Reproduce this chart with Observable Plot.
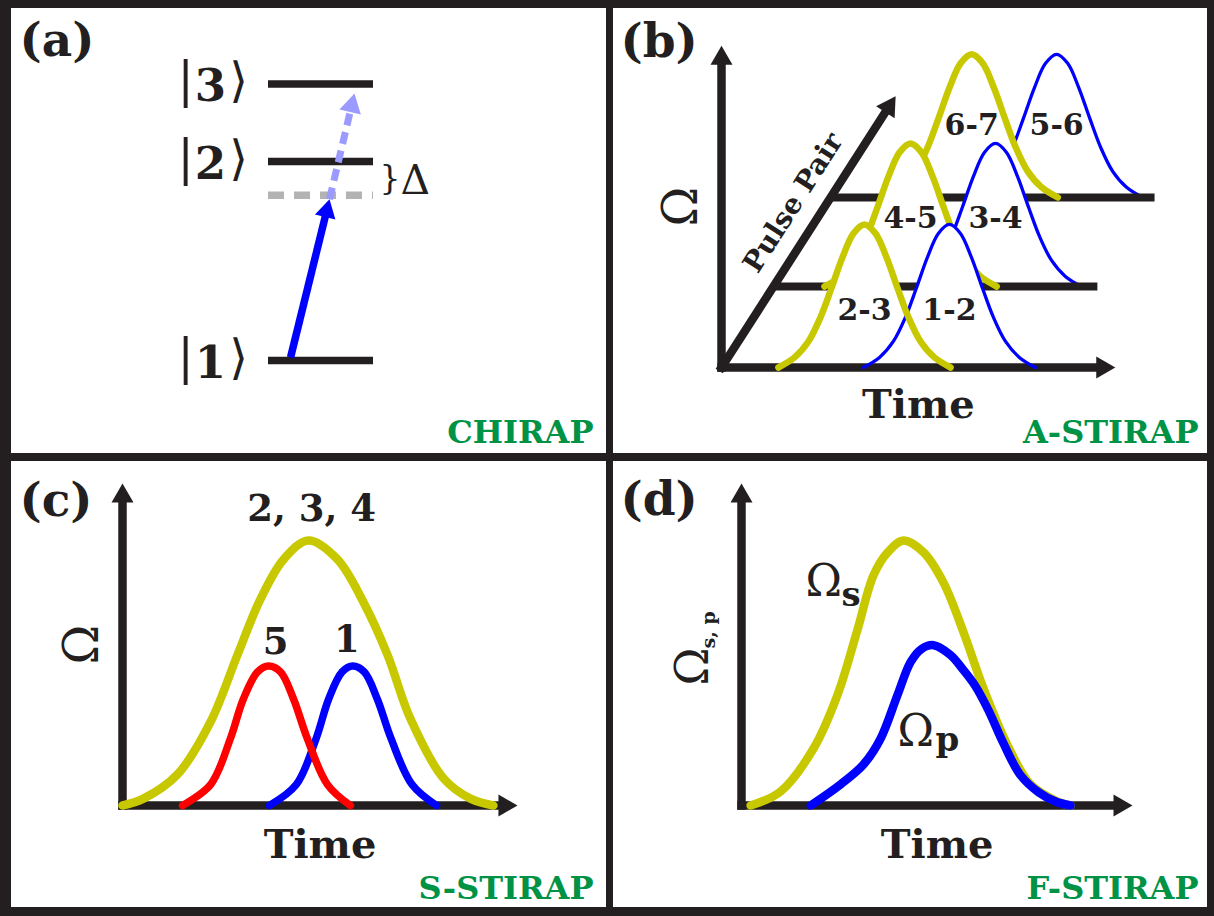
<!DOCTYPE html>
<html>
<head>
<meta charset="utf-8">
<script src="https://cdn.jsdelivr.net/npm/d3@7"></script>
<script src="https://cdn.jsdelivr.net/npm/@observablehq/plot@0.6"></script>
<style>
  html, body { margin: 0; padding: 0; background: #fff; }
  #figure { position: relative; width: 1214px; height: 916px; background: #231f20; overflow: hidden; }
  .panel { position: absolute; background: #fff; }
  .panel svg { display: block; overflow: visible; }
</style>
</head>
<body>
<div id="figure">
  <div class="panel" id="panel-a" style="left:11px;top:8px;width:595px;height:445px"></div>
  <div class="panel" id="panel-b" style="left:613px;top:8px;width:594px;height:445px"></div>
  <div class="panel" id="panel-c" style="left:11px;top:461px;width:595px;height:446px"></div>
  <div class="panel" id="panel-d" style="left:613px;top:461px;width:594px;height:446px"></div>
</div>
<script>
// ---------- (a) CHIRAP: three-level ladder ----------
const levelNames = ["1", "2", "3"];
const levelEnergy = [0, 1, 1.39];
const virtualEnergy = 0.83;               // dashed level, detuned by Δ below |2⟩
const laserNames = ["pump", "stokes"];
const laserX1 = [0.21, 0.581];
const laserE1 = [0.015, 0.81];
const laserX2 = [0.581, 0.819];
const laserE2 = [0.81, 1.342];

// ---------- (b) A-STIRAP: pulse pairs along a depth axis ----------
const pairDepth = [0, 1, 2.1];
const stokesPairs = ["2-3", "4-5", "6-7"];
const pumpPairs = ["1-2", "3-4", "5-6"];
const stokesCenter = [3.62, 3.47, 3.57];
const pumpCenter = [5.77, 5.62, 5.72];
const pairBaseEnd = [9.97, 8.2, 8.2];
const pairAxisEnd = 3.35;
const profileDt = [-2.18, -1.77, -1.42, -1.11, -0.84, -0.56, -0.28, 0, 0.28, 0.56, 0.84, 1.11, 1.42, 1.77, 2.18];
const profileOmega = [0, 0.38, 0.98, 1.9, 2.97, 4.13, 5.04, 5.38, 5.04, 4.13, 2.97, 1.9, 0.98, 0.38, 0];
const omegaAxisEndB = 12.1;

// ---------- (c) S-STIRAP ----------
const cYellowT = [0, 0.53, 1.39, 2.23, 2.91, 3.49, 4.08, 4.71, 5.44, 6.10, 6.71, 7.29, 8.13, 8.81, 9.39];
const cYellowW = [0, 0.26, 1.17, 3.16, 5.68, 7.78, 9.29, 10, 9.29, 7.67, 5.68, 3.27, 1.02, 0.26, 0];
const cRedT = [1.52, 2.23, 2.73, 3.06, 3.42, 3.70, 4.00, 4.33, 4.68, 5.19, 5.77];
const cRedW = [0, 0.79, 2.52, 4.02, 5.04, 5.26, 5.04, 4.02, 2.52, 0.79, 0];
const cBlueT = [3.72, 4.40, 4.90, 5.22, 5.56, 5.83, 6.12, 6.45, 6.80, 7.33, 7.95];
const cBlueW = [0, 0.79, 2.52, 4.02, 5.04, 5.26, 5.04, 4.02, 2.52, 0.79, 0];
const cLabels = ["2, 3, 4", "5", "1"];

// ---------- (d) F-STIRAP ----------
const dStokesT = [0.23, 0.99, 1.82, 2.43, 2.94, 3.34, 3.70, 4.10, 4.61, 5.11, 5.62, 6.13, 6.73, 7.32, 8.00, 8.33];
const dStokesW = [0, 0.53, 2.14, 4.17, 6.65, 8.68, 9.55, 10, 9.55, 8.42, 6.54, 4.40, 2.29, 0.79, 0.15, 0];
const dPumpT = [1.75, 2.51, 3.09, 3.52, 3.95, 4.28, 4.55, 4.86, 5.29, 5.62, 5.92, 6.25, 6.63, 7.06, 7.52, 7.95, 8.33];
const dPumpW = [0, 0.8, 1.55, 2.52, 4.17, 5.41, 5.9, 6.05, 5.68, 5.11, 4.51, 3.6, 2.35, 1.15, 0.5, 0.15, 0];

const timeAxisEnd = [10, 9.9];      // (c), (d)
const omegaAxisEnd = 12.15;

// ---------- styling ----------
const INK = "#231f20", YELLOW = "#c8c800", BLUE = "#0000ff", RED = "#ff0000";
const LIGHT = "#9b9bff", GRAY = "#b3b3b3", GREEN = "#009245";
const SERIF = "DejaVu Serif, Liberation Serif, serif";
const BRACKET = "DejaVu Sans, DejaVu Serif, Noto Sans, sans-serif";

const scA = {x: {domain: [0, 1], range: [257, 362]}, y: {domain: [0, 1], range: [352, 153]}};
const scB = {x: {domain: [0, 10], range: [108, 503]}, y: {domain: [0, 10], range: [359, 93]}};
const scC = {x: {domain: [0, 10], range: [111, 506]}, y: {domain: [0, 10], range: [344, 79]}};
const scD = {x: {domain: [0, 10], range: [128, 523]}, y: {domain: [0, 10], range: [344, 79]}};

// oblique projection of the pulse-pair axis (per depth unit)
const DEPTH_T = 1.316, DEPTH_W = 3.045;

const pixel = sc => ({x: d3.scaleLinear(sc.x.domain, sc.x.range), y: d3.scaleLinear(sc.y.domain, sc.y.range)});

// filled triangular arrow head whose tip sits on `tip`
function head(sc, tip, from, fill, side) {
  const s = pixel(sc);
  const tx = s.x(tip[0]), ty = s.y(tip[1]), fx = s.x(from[0]), fy = s.y(from[1]);
  const len = Math.hypot(tx - fx, ty - fy);
  const ux = (tx - fx) / len, uy = (ty - fy) / len;
  const back = side / Math.sqrt(3);
  return Plot.dot([tip], {
    x: d => d[0], y: d => d[1], symbol: "triangle",
    r: Math.sqrt(Math.sqrt(3) / 4 * side * side / Math.PI),
    rotate: Math.atan2(ux, -uy) * 180 / Math.PI,
    dx: -ux * back, dy: -uy * back, fill, stroke: "none"
  });
}

function arrow(sc, tail, tip, {stroke = INK, strokeWidth = 8.5, side = 22, dash = null, cap = "square"} = {}) {
  return [
    Plot.arrow([{tail, tip}], {
      x1: d => d.tail[0], y1: d => d.tail[1], x2: d => d.tip[0], y2: d => d.tip[1],
      headLength: 0, insetEnd: side * 0.7, stroke, strokeWidth,
      strokeLinecap: cap, strokeDasharray: dash
    }),
    head(sc, tip, tail, stroke, side)
  ];
}

function panel(id, width, height, sc, marks) {
  const chart = Plot.plot({
    width, height, margin: 0,
    x: {...sc.x, axis: null},
    y: {...sc.y, axis: null},
    style: {overflow: "visible", background: "transparent"},
    marks
  });
  document.getElementById(id).append(chart);
}

const txt = (o) => ({fontFamily: SERIF, fill: INK, stroke: "none", ...o});
const tag = (text, dx, dy) => Plot.text([text], txt({frameAnchor: "top-left", textAnchor: "start", lineAnchor: "bottom", dx, dy, fontSize: 47, fontWeight: "bold"}));
const technique = (text, dx, dy) => Plot.text([text], txt({frameAnchor: "bottom-right", textAnchor: "end", lineAnchor: "bottom", dx, dy, fontSize: 32, fontWeight: "bold", fill: GREEN}));
const points = (T, W) => T.map((t, i) => ({t, w: W[i]}));
const pulseLine = (pts, stroke, strokeWidth) => Plot.line(pts, {x: "t", y: "w", stroke, strokeWidth, curve: "catmull-rom"});

// ===== (a) =====
const levels = levelNames.map((name, i) => ({name, E: levelEnergy[i]}));
const lasers = laserNames.map((name, i) => ({name, tail: [laserX1[i], laserE1[i]], tip: [laserX2[i], laserE2[i]]}));
panel("panel-a", 595, 445, scA, [
  Plot.ruleY(levels, {y: "E", x1: 0, x2: 1, stroke: INK, strokeWidth: 7.5}),
  Plot.ruleY([virtualEnergy], {y: d => d, x1: 0, x2: 1, stroke: GRAY, strokeWidth: 7.5, strokeDasharray: "16,10"}),
  arrow(scA, lasers[0].tail, lasers[0].tip, {stroke: BLUE, strokeWidth: 7.5, side: 21, cap: "butt"}),
  arrow(scA, lasers[1].tail, lasers[1].tip, {stroke: LIGHT, strokeWidth: 7, side: 22, dash: "12,7", cap: "butt"}),
  Plot.text(levels, txt({x: 0, y: "E", text: () => "|", dx: -83, dy: -2, fontSize: 48})),
  Plot.text(levels, txt({x: 0, y: "E", text: "name", dx: -58, dy: 3, fontSize: 45, fontWeight: "bold"})),
  Plot.text(levels, txt({x: 0, y: "E", text: () => "\u27E9", dx: -30, dy: -2, fontSize: 48, fontFamily: BRACKET})),
  Plot.text([(virtualEnergy + levelEnergy[1]) / 2], txt({x: 1, y: d => d, text: () => "}", textAnchor: "start", dx: 6, fontSize: 33})),
  Plot.text([(virtualEnergy + levelEnergy[1]) / 2], txt({x: 1, y: d => d, text: () => "Δ", textAnchor: "start", dx: 27, dy: 2, fontSize: 41})),
  tag("(a)", 8, 47),
  technique("CHIRAP", -13, -11)
]);

// ===== (b) =====
const pulse = (center, depth) => profileDt.map((dt, i) => ({
  t: center + dt + depth * DEPTH_T, base: depth * DEPTH_W, w: depth * DEPTH_W + profileOmega[i]
}));
const labelLift = [2.15, 2.55, 2.7];
const pairLabels = pairDepth.flatMap((depth, r) => [
  {text: stokesPairs[r], t: stokesCenter[r] + depth * DEPTH_T, w: depth * DEPTH_W + labelLift[r]},
  {text: pumpPairs[r], t: pumpCenter[r] + depth * DEPTH_T, w: depth * DEPTH_W + labelLift[r]}
]);
const rowMarks = [2, 1, 0].flatMap(r => {
  const depth = pairDepth[r];
  const s = pulse(stokesCenter[r], depth), p = pulse(pumpCenter[r], depth);
  const cover = pts => Plot.areaY(pts, {x: "t", y1: "base", y2: "w", fill: "white", curve: "catmull-rom"});
  const base = r === 0
    ? arrow(scB, [0, 0], [pairBaseEnd[0], 0])
    : Plot.link([depth], {x1: d => d * DEPTH_T, x2: d => d * DEPTH_T + pairBaseEnd[r], y1: d => d * DEPTH_W, y2: d => d * DEPTH_W, stroke: INK, strokeWidth: 8});
  return r === 0
    ? [cover(p), cover(s), base, pulseLine(p, BLUE, 3.3), pulseLine(s, YELLOW, 6.5)]
    : [cover(p), pulseLine(p, BLUE, 3.3), cover(s), base, pulseLine(s, YELLOW, 6.5)];
});
const pairTip = [pairAxisEnd * DEPTH_T, pairAxisEnd * DEPTH_W];
const pairLabelAt = 0.55 * pairAxisEnd;
panel("panel-b", 594, 445, scB, [
  arrow(scB, [0, 0], [0, omegaAxisEndB]),
  arrow(scB, [0, 0], pairTip),
  ...rowMarks,
  Plot.text(pairLabels, txt({x: "t", y: "w", text: "text", fontSize: 30, fontWeight: "bold"})),
  Plot.text(["Ω"], txt({x: 0, y: omegaAxisEndB / 2, dx: -40, rotate: -90, fontSize: 48})),
  Plot.text(["Pulse Pair"], txt({x: pairLabelAt * DEPTH_T, y: pairLabelAt * DEPTH_W, dx: -24, dy: -15.5, rotate: -57.3, fontSize: 28, fontWeight: "bold"})),
  Plot.text(["Time"], txt({x: pairBaseEnd[0] / 2, y: 0, dy: 50, lineAnchor: "bottom", fontSize: 40, fontWeight: "bold"})),
  tag("(b)", 7, 48),
  technique("A-STIRAP", -9, -11)
]);

// ===== (c) =====
const cYellow = points(cYellowT, cYellowW), cRed = points(cRedT, cRedW), cBlue = points(cBlueT, cBlueW);
const peak = pts => d3.greatest(pts, d => d.w);
panel("panel-c", 595, 446, scC, [
  arrow(scC, [0, 0], [0, omegaAxisEnd]),
  arrow(scC, [0, 0], [timeAxisEnd[0], 0]),
  pulseLine(cYellow, YELLOW, 8.5),
  pulseLine(cBlue, BLUE, 7.5),
  pulseLine(cRed, RED, 7.5),
  Plot.text([peak(cYellow)], txt({x: "t", y: "w", text: () => cLabels[0], dx: 3, dy: -20, lineAnchor: "bottom", fontSize: 37, fontWeight: "bold"})),
  Plot.text([peak(cRed)], txt({x: "t", y: "w", text: () => cLabels[1], dx: 7, dy: -12, lineAnchor: "bottom", fontSize: 37, fontWeight: "bold"})),
  Plot.text([peak(cBlue)], txt({x: "t", y: "w", text: () => cLabels[2], dx: -6, dy: -14, lineAnchor: "bottom", fontSize: 37, fontWeight: "bold"})),
  Plot.text(["Ω"], txt({x: 0, y: omegaAxisEnd / 2, dx: -40, rotate: -90, fontSize: 48})),
  Plot.text(["Time"], txt({x: timeAxisEnd[0] / 2, y: 0, dy: 52, lineAnchor: "bottom", fontSize: 40, fontWeight: "bold"})),
  tag("(c)", 8, 54),
  technique("S-STIRAP", -13, -9)
]);

// ===== (d) =====
const dStokes = points(dStokesT, dStokesW), dPump = points(dPumpT, dPumpW);
panel("panel-d", 594, 446, scD, [
  arrow(scD, [0, 0], [0, omegaAxisEnd]),
  arrow(scD, [0, 0], [timeAxisEnd[1], 0]),
  pulseLine(dStokes, YELLOW, 8.5),
  pulseLine(dPump, BLUE, 8.5),
  // rotated axis label Ω with subscript "s, p"
  Plot.text(["Ω"], txt({x: 0, y: omegaAxisEnd / 2, dx: -34, dy: 41, rotate: -90, textAnchor: "start", lineAnchor: "bottom", fontSize: 46})),
  Plot.text(["s, p"], txt({x: 0, y: omegaAxisEnd / 2, dx: -27, dy: 4, rotate: -90, textAnchor: "start", lineAnchor: "bottom", fontSize: 19, fontWeight: "bold"})),
  // curve names
  Plot.text(["Ω"], txt({frameAnchor: "top-left", textAnchor: "start", lineAnchor: "bottom", dx: 192, dy: 134, fontSize: 44})),
  Plot.text(["s"], txt({frameAnchor: "top-left", textAnchor: "start", lineAnchor: "bottom", dx: 228, dy: 144, fontSize: 34, fontWeight: "bold"})),
  Plot.text(["Ω"], txt({frameAnchor: "top-left", textAnchor: "start", lineAnchor: "bottom", dx: 284, dy: 284, fontSize: 44})),
  Plot.text(["p"], txt({frameAnchor: "top-left", textAnchor: "start", lineAnchor: "bottom", dx: 322, dy: 289, fontSize: 34, fontWeight: "bold"})),
  Plot.text(["Time"], txt({x: timeAxisEnd[1] / 2, y: 0, dy: 52, lineAnchor: "bottom", fontSize: 40, fontWeight: "bold"})),
  tag("(d)", 7, 53),
  technique("F-STIRAP", -9, -9)
]);
</script>
</body>
</html>
